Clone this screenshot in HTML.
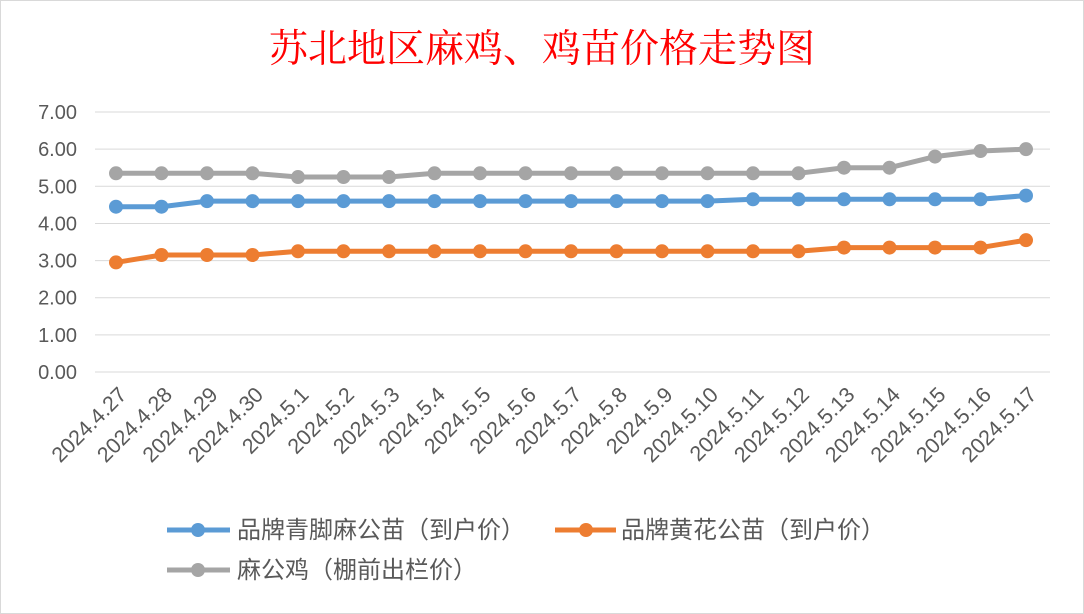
<!DOCTYPE html>
<html><head><meta charset="utf-8"><style>
html,body{margin:0;padding:0;background:#fff}
svg{display:block}
text{font-family:"Liberation Sans","Noto Sans CJK SC",sans-serif}
</style></head><body>
<svg width="1084" height="614" viewBox="0 0 1084 614">
<rect x="0.5" y="0.5" width="1083" height="613" fill="#fff" stroke="#d9d9d9"/>
<text x="542" y="62" text-anchor="middle" font-size="39" fill="#ff0000" style="font-family:'Noto Serif CJK SC',serif">苏北地区麻鸡、鸡苗价格走势图</text>
<g id="grid" stroke="#d9d9d9" stroke-width="1"></g>
<g id="ylab" font-size="20" fill="#595959" text-anchor="end"></g>
<g id="xlab" font-size="21.5" fill="#595959" text-anchor="end"></g>
<g id="series"></g>
<g font-size="24" fill="#595959">
<line x1="167" y1="530" x2="230" y2="530" stroke="#5b9bd5" stroke-width="5"/><circle cx="198" cy="530" r="7" fill="#5b9bd5"/>
<text x="237" y="538">品牌青脚麻公苗（到户价）</text>
<line x1="555" y1="530" x2="616" y2="530" stroke="#ed7d31" stroke-width="5"/><circle cx="586" cy="530" r="7" fill="#ed7d31"/>
<text x="621" y="538">品牌黄花公苗（到户价）</text>
<line x1="167" y1="570" x2="230" y2="570" stroke="#a5a5a5" stroke-width="5"/><circle cx="198" cy="570" r="7" fill="#a5a5a5"/>
<text x="237" y="578">麻公鸡（棚前出栏价）</text>
</g>
</svg>
<script>
var NS="http://www.w3.org/2000/svg";
function el(t,a,p,txt){var e=document.createElementNS(NS,t);for(var k in a)e.setAttribute(k,a[k]);if(txt)e.textContent=txt;document.getElementById(p).appendChild(e);return e;}
function Y(v){return 372-v*37.14;}
for(var i=0;i<=7;i++){var y=Y(i);el('line',{x1:95,x2:1050,y1:y,y2:y},'grid');el('text',{x:77,y:y+7},'ylab',i.toFixed(2));}
var labels=["2024.4.27","2024.4.28","2024.4.29","2024.4.30","2024.5.1","2024.5.2","2024.5.3","2024.5.4","2024.5.5","2024.5.6","2024.5.7","2024.5.8","2024.5.9","2024.5.10","2024.5.11","2024.5.12","2024.5.13","2024.5.14","2024.5.15","2024.5.16","2024.5.17"];
function X(i){return 116+i*45.5;}
labels.forEach(function(l,i){var x=X(i)+12,y=396;el('text',{x:x,y:y,transform:'rotate(-45 '+x+' '+y+')'},'xlab',l);});
var data=[
["#a5a5a5",[5.35,5.35,5.35,5.35,5.25,5.25,5.25,5.35,5.35,5.35,5.35,5.35,5.35,5.35,5.35,5.35,5.5,5.5,5.8,5.95,6.0]],
["#5b9bd5",[4.45,4.45,4.6,4.6,4.6,4.6,4.6,4.6,4.6,4.6,4.6,4.6,4.6,4.6,4.65,4.65,4.65,4.65,4.65,4.65,4.75]],
["#ed7d31",[2.95,3.15,3.15,3.15,3.25,3.25,3.25,3.25,3.25,3.25,3.25,3.25,3.25,3.25,3.25,3.25,3.35,3.35,3.35,3.35,3.55]]];
data.forEach(function(s){var pts=s[1].map(function(v,i){return X(i)+','+Y(v);}).join(' ');
el('polyline',{points:pts,fill:'none',stroke:s[0],'stroke-width':5,'stroke-linejoin':'round'},'series');
s[1].forEach(function(v,i){el('circle',{cx:X(i),cy:Y(v),r:7,fill:s[0]},'series');});});
</script>
</body></html>
